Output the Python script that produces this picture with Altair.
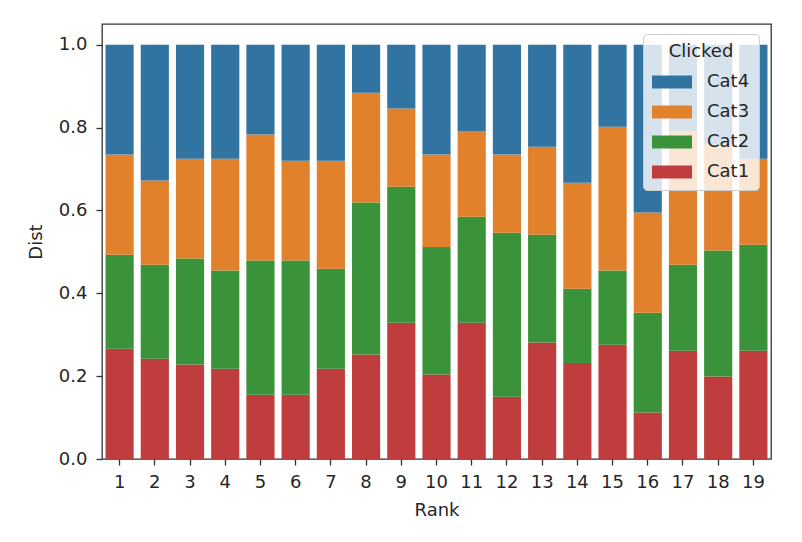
import altair as alt
import pandas as pd

ranks = list(range(1, 20))
categories = ["Cat4", "Cat3", "Cat2", "Cat1"]
colors = ["#3274a1", "#e1812c", "#3a923a", "#c03d3e"]

cat1 = [0.266, 0.242, 0.228, 0.218, 0.155, 0.155, 0.218, 0.252, 0.329, 0.204,
        0.329, 0.150, 0.281, 0.232, 0.276, 0.112, 0.261, 0.199, 0.261]
cat2 = [0.227, 0.227, 0.256, 0.237, 0.324, 0.324, 0.241, 0.367, 0.328, 0.308,
        0.256, 0.396, 0.260, 0.179, 0.179, 0.241, 0.208, 0.304, 0.256]
cat3 = [0.242, 0.203, 0.241, 0.270, 0.304, 0.241, 0.261, 0.265, 0.189, 0.223,
        0.207, 0.189, 0.213, 0.256, 0.347, 0.242, 0.322, 0.256, 0.208]
cat4 = [0.265, 0.328, 0.275, 0.275, 0.217, 0.280, 0.280, 0.116, 0.154, 0.265,
        0.208, 0.265, 0.246, 0.333, 0.198, 0.405, 0.209, 0.241, 0.275]

series = [("Cat1", cat1, 1), ("Cat2", cat2, 2), ("Cat3", cat3, 3), ("Cat4", cat4, 4)]
rows = []
for i, r in enumerate(ranks):
    for name, vals, order in series:
        rows.append({"Rank": r, "Clicked": name, "Dist": vals[i], "ord": order})
df = pd.DataFrame(rows)

FONT = "DejaVu Sans"
TXT = "#262626"

chart = alt.Chart(df).mark_bar().encode(
    x=alt.X("Rank:O",
            scale=alt.Scale(paddingInner=0.2, paddingOuter=0.1),
            axis=alt.Axis(labelAngle=0, title="Rank", labelFontSize=18, titleFontSize=18,
                          tickSize=6, labelPadding=8, titlePadding=10, domain=False,
                          titleFontWeight="normal")),
    y=alt.Y("Dist:Q", stack="zero",
            scale=alt.Scale(domain=[0, 1.05], nice=False),
            axis=alt.Axis(values=[0, 0.2, 0.4, 0.6, 0.8, 1.0], format=".1f", grid=False,
                          title="Dist", labelFontSize=18, titleFontSize=18,
                          tickSize=6, labelPadding=9, titlePadding=13, domain=False,
                          titleFontWeight="normal")),
    color=alt.Color("Clicked:N",
                    scale=alt.Scale(domain=categories, range=colors),
                    legend=alt.Legend(orient="none", legendX=541, legendY=10,
                                      title="Clicked", titleFontSize=18,
                                      titleFontWeight="normal", titleAnchor="middle",
                                      titlePadding=11, labelFontSize=18,
                                      symbolType="M-1,-0.65L3,-0.65L3,0.65L-1,0.65Z",
                                      symbolSize=400, symbolStrokeWidth=0,
                                      labelOffset=35, rowPadding=11, padding=9,
                                      fillColor="rgba(255,255,255,0.8)",
                                      strokeColor="#cccccc", cornerRadius=4,
                                      symbolOpacity=1, titleColor=TXT, labelColor=TXT)),
    order=alt.Order("ord:Q", sort="ascending"),
).properties(
    width=669, height=435,
    autosize=alt.AutoSizeParams(type="none"),
    padding={"left": 94, "top": 16, "right": 22, "bottom": 66},
).configure(
    font=FONT,
).configure_view(
    stroke="#333333", strokeWidth=1.3,
).configure_axis(
    labelColor=TXT, titleColor=TXT, tickColor="#333333", tickWidth=1.3,
    labelFont=FONT, titleFont=FONT,
).configure_legend(
    labelFont=FONT, titleFont=FONT,
)

chart.save("out.html", embed_options={"renderer": "svg", "actions": False})
